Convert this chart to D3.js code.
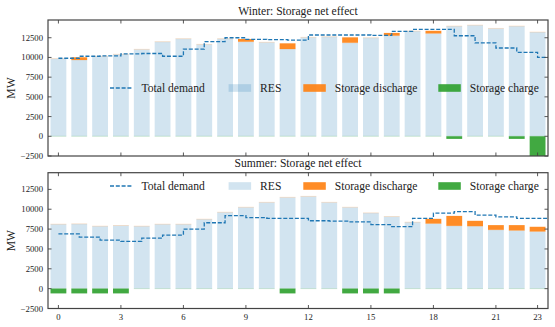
<!DOCTYPE html>
<html>
<head>
<meta charset="utf-8">
<script src="https://cdn.jsdelivr.net/npm/d3@7"></script>
<style>
  body { margin: 0; background: #fff; }
  text { font-family: "Liberation Serif", "DejaVu Serif", serif; fill: #222; }
</style>
</head>
<body>
<div id="chart"></div>
<script>
// hours of the day
const hours = [0, 1, 2, 3, 4, 5, 6, 7, 8, 9, 10, 11, 12, 13, 14, 15, 16, 17, 18, 19, 20, 21, 22, 23];

// winter (MW)
const winterDemand = [9900, 10150, 10200, 10450, 10500, 10150, 11050, 12000, 12500, 12300, 12250, 12200,
  12850, 12850, 12850, 12800, 13300, 13550, 13550, 12750, 11850, 11200, 10650, 10000];
const winterRES = [9850, 9680, 10150, 10400, 11030, 12000, 12380, 11660, 12380, 12000, 11920, 11070,
  12550, 12630, 11870, 12500, 12770, 13350, 13050, 13980, 14100, 13680, 13980, 13220];
const winterDischarge = [0, 340, 0, 0, 0, 0, 0, 0, 0, 340, 0, 720, 0, 0, 680, 0, 340, 0, 330, 0, 0, 0, 0, 0];
const winterCharge = [0, 0, 0, 0, 0, 0, 0, 0, 0, 0, 0, 0, 0, 0, 0, 0, 0, 0, 0, -330, 0, 0, -330, -2500];

// summer (MW)
const summerDemand = [6900, 6500, 6100, 5950, 6350, 6750, 7500, 8300, 9200, 8950, 8850, 8850,
  8550, 8500, 8400, 8050, 7800, 8850, 9500, 9700, 9250, 9050, 8850, 8850];
const summerRES = [8120, 8160, 7870, 7950, 7870, 8120, 8120, 8750, 9620, 10250, 10870, 11500,
  11620, 10870, 10250, 9540, 9080, 8370, 8200, 7910, 7870, 7410, 7330, 7200];
const summerDischarge = [0, 0, 0, 0, 0, 0, 0, 0, 0, 0, 0, 0, 0, 0, 0, 0, 0, 0, 590, 1250, 670, 590, 670, 590];
const summerCharge = [-600, -600, -600, -600, 0, 0, 0, 0, 0, 0, 0, -600, 0, 0, -600, -600, -600, 0, 0, 0, 0, 0, 0, 0];

const xTicks = [0, 3, 6, 9, 12, 15, 18, 21, 23];
const yTicks = [-2500, 0, 2500, 5000, 7500, 10000, 12500];
const legendLabels = ["Total demand", "RES", "Storage discharge", "Storage charge"];

const W = 555, H = 327;
const left = 48, right = 548;
const blue = "#1f77b4", orange = "#ff7f0e", green = "#2ca02c", spine = "#444";

const svg = d3.select("#chart").append("svg").attr("width", W).attr("height", H);

const x = d3.scaleLinear().domain([-0.5, 23.5]).range([left, right]);
const barW = 0.76;

function panel(id, top, bottom, yMax, title, demand, res, dis, chg, showX, legendY) {
  const y = d3.scaleLinear().domain([-2500, yMax]).range([bottom, top]);
  const g = svg.append("g");

  g.append("clipPath").attr("id", "clip" + id)
    .append("rect").attr("x", left).attr("y", top).attr("width", right - left).attr("height", bottom - top);
  const plot = g.append("g").attr("clip-path", `url(#clip${id})`);

  // RES bars
  plot.selectAll(".res").data(hours).join("rect")
    .attr("x", (d) => x(d - barW / 2))
    .attr("width", x(barW) - x(0))
    .attr("y", (d) => y(res[d]))
    .attr("height", (d) => y(0) - y(res[d]))
    .attr("fill", blue).attr("fill-opacity", 0.2);

  // faint edges of empty storage bars
  plot.selectAll(".dtop").data(hours).join("line")
    .attr("x1", (d) => x(d - barW / 2)).attr("x2", (d) => x(d + barW / 2))
    .attr("y1", (d) => y(res[d])).attr("y2", (d) => y(res[d]))
    .attr("stroke", orange).attr("stroke-opacity", 0.18).attr("stroke-width", 1);
  plot.selectAll(".czero").data(hours).join("line")
    .attr("x1", (d) => x(d - barW / 2)).attr("x2", (d) => x(d + barW / 2))
    .attr("y1", y(0)).attr("y2", y(0))
    .attr("stroke", green).attr("stroke-opacity", 0.18).attr("stroke-width", 1);

  // storage discharge (on top of RES)
  plot.selectAll(".dis").data(hours.filter((d) => dis[d] > 0)).join("rect")
    .attr("x", (d) => x(d - barW / 2))
    .attr("width", x(barW) - x(0))
    .attr("y", (d) => y(res[d] + dis[d]))
    .attr("height", (d) => y(res[d]) - y(res[d] + dis[d]))
    .attr("fill", orange).attr("fill-opacity", 0.9);

  // storage charge (below zero)
  plot.selectAll(".chg").data(hours.filter((d) => chg[d] < 0)).join("rect")
    .attr("x", (d) => x(d - barW / 2))
    .attr("width", x(barW) - x(0))
    .attr("y", y(0))
    .attr("height", (d) => y(chg[d]) - y(0))
    .attr("fill", green).attr("fill-opacity", 0.9);

  // demand step line
  const pts = hours.map((d) => [d, demand[d]]);
  pts.push([x.domain()[1], demand[demand.length - 1]]);
  plot.append("path")
    .attr("d", d3.line().x((d) => x(d[0])).y((d) => y(d[1])).curve(d3.curveStepAfter)(pts))
    .attr("fill", "none").attr("stroke", blue).attr("stroke-width", 1.3)
    .attr("stroke-dasharray", "4,1.8");

  // frame
  g.append("rect").attr("x", left).attr("y", top).attr("width", right - left).attr("height", bottom - top)
    .attr("fill", "none").attr("stroke", spine).attr("stroke-width", 1.2);

  // ticks (inward, all sides)
  const tl = 3.5;
  xTicks.forEach((t) => {
    g.append("line").attr("x1", x(t)).attr("x2", x(t)).attr("y1", bottom).attr("y2", bottom - tl)
      .attr("stroke", spine).attr("stroke-width", 0.9);
    g.append("line").attr("x1", x(t)).attr("x2", x(t)).attr("y1", top).attr("y2", top + tl)
      .attr("stroke", spine).attr("stroke-width", 0.9);
    if (showX) {
      g.append("text").attr("x", x(t)).attr("y", bottom + 11.5).attr("text-anchor", "middle")
        .attr("font-size", 8.7).text(t);
    }
  });
  yTicks.forEach((t) => {
    g.append("line").attr("x1", left).attr("x2", left + tl).attr("y1", y(t)).attr("y2", y(t))
      .attr("stroke", spine).attr("stroke-width", 0.9);
    g.append("line").attr("x1", right).attr("x2", right - tl).attr("y1", y(t)).attr("y2", y(t))
      .attr("stroke", spine).attr("stroke-width", 0.9);
    g.append("text").attr("x", left - 5).attr("y", y(t) + 3).attr("text-anchor", "end")
      .attr("font-size", 8.7).text(t < 0 ? "\u2212" + Math.abs(t) : t);
  });

  // title and y label
  g.append("text").attr("x", (left + right) / 2).attr("y", top - 5.5).attr("text-anchor", "middle")
    .attr("font-size", 11.6).text(title);
  g.append("text").attr("transform", `translate(14.5,${(top + bottom) / 2}) rotate(-90)`)
    .attr("text-anchor", "middle").attr("font-size", 11.6).text("MW");

  // legend
  const hx = [110, 228.6, 303.3, 438.3];
  const hw = 22.5;
  const lg = g.append("g");
  lg.append("line").attr("x1", hx[0]).attr("x2", hx[0] + hw).attr("y1", legendY).attr("y2", legendY)
    .attr("stroke", blue).attr("stroke-width", 1.3).attr("stroke-dasharray", "4,1.8");
  lg.append("rect").attr("x", hx[1]).attr("y", legendY - 3.8).attr("width", hw).attr("height", 7.6)
    .attr("fill", blue).attr("fill-opacity", 0.2);
  lg.append("rect").attr("x", hx[2]).attr("y", legendY - 3.8).attr("width", hw).attr("height", 7.6)
    .attr("fill", orange).attr("fill-opacity", 0.9);
  lg.append("rect").attr("x", hx[3]).attr("y", legendY - 3.8).attr("width", hw).attr("height", 7.6)
    .attr("fill", green).attr("fill-opacity", 0.9);
  legendLabels.forEach((l, i) => {
    lg.append("text").attr("x", hx[i] + hw + 9).attr("y", legendY + 4).attr("font-size", 11.6).text(l);
  });
}

panel("w", 20, 156, 14750, "Winter: Storage net effect",
  winterDemand, winterRES, winterDischarge, winterCharge, false, 88);
panel("s", 172.7, 308.5, 14600, "Summer: Storage net effect",
  summerDemand, summerRES, summerDischarge, summerCharge, true, 186);
</script>
</body>
</html>
